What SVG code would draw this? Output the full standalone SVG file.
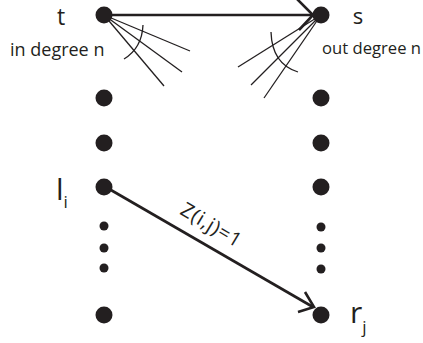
<svg xmlns="http://www.w3.org/2000/svg" width="423" height="343" viewBox="0 0 423 343">
<style>
.big{fill:#231f20}
.sm{fill:#231f20}
.fan{stroke:#231f20;stroke-width:1.3;fill:none}
.edge{stroke:#231f20;stroke-width:2.6;fill:none;stroke-linecap:butt}
.lbl{font-family:"Open Sans","Noto Sans",sans-serif;fill:#231f20}
</style>
<rect width="423" height="343" fill="#fff"/>
<g id="connectors">
  <line class="edge" x1="104" y1="15" x2="313" y2="15" stroke-width="3"/>
  <polyline class="edge" points="296,-2 313,15 299,30"/>
  <line class="edge" x1="104" y1="186" x2="313" y2="307"/>
  <polyline class="edge" points="305,292 314,307 298,312"/>
  <g id="fan-in">
    <line class="fan" x1="104" y1="15" x2="190" y2="51"/>
    <line class="fan" x1="104" y1="15" x2="182" y2="72"/>
    <line class="fan" x1="104" y1="15" x2="164" y2="86"/>
    <path class="fan" d="M143,25 Q142,48 124,59"/>
  </g>
  <g id="fan-out">
    <line class="fan" x1="321" y1="15" x2="238" y2="67"/>
    <line class="fan" x1="321" y1="15" x2="251" y2="85"/>
    <line class="fan" x1="321" y1="15" x2="264" y2="98"/>
    <path class="fan" d="M271,32 Q272,64 298,72"/>
  </g>
  <text class="lbl" font-size="20" letter-spacing="0.8" text-anchor="middle" transform="translate(208,231) rotate(30.9)">Z(i,j)=1</text>
</g>
<g id="node-t"><circle class="big" cx="104" cy="15" r="8.5"/><text class="lbl" x="61" y="25" font-size="23" text-anchor="middle">t</text><text class="lbl" x="10" y="56" font-size="18">in degree n</text></g>
<g id="node-s"><circle class="big" cx="321" cy="15" r="8.5"/><text class="lbl" x="358" y="24" font-size="22" text-anchor="middle">s</text><text class="lbl" x="322" y="54" font-size="16.5" textLength="99" lengthAdjust="spacingAndGlyphs">out degree n</text></g>
<g id="node-l2"><circle class="big" cx="104" cy="98" r="8.5"/></g>
<g id="node-l3"><circle class="big" cx="104" cy="143" r="8.5"/></g>
<g id="node-li"><circle class="big" cx="104" cy="187" r="8.5"/><text class="lbl" x="56" y="200" font-size="30">l<tspan font-size="17" dy="8">i</tspan></text></g>
<g id="dots-l"><circle class="sm" cx="104" cy="226" r="4.5"/><circle class="sm" cx="104" cy="248" r="4.5"/><circle class="sm" cx="104" cy="268" r="4.5"/></g>
<g id="node-l-last"><circle class="big" cx="104" cy="315" r="8.5"/></g>
<g id="node-r2"><circle class="big" cx="321" cy="98" r="8.5"/></g>
<g id="node-r3"><circle class="big" cx="321" cy="143" r="8.5"/></g>
<g id="node-r4"><circle class="big" cx="321" cy="187" r="8.5"/></g>
<g id="dots-r"><circle class="sm" cx="321" cy="227" r="4.5"/><circle class="sm" cx="321" cy="248" r="4.5"/><circle class="sm" cx="321" cy="269" r="4.5"/></g>
<g id="node-rj"><circle class="big" cx="321" cy="315" r="8.5"/><text class="lbl" x="350" y="323" font-size="30">r<tspan font-size="17" dy="10">j</tspan></text></g>
</svg>
